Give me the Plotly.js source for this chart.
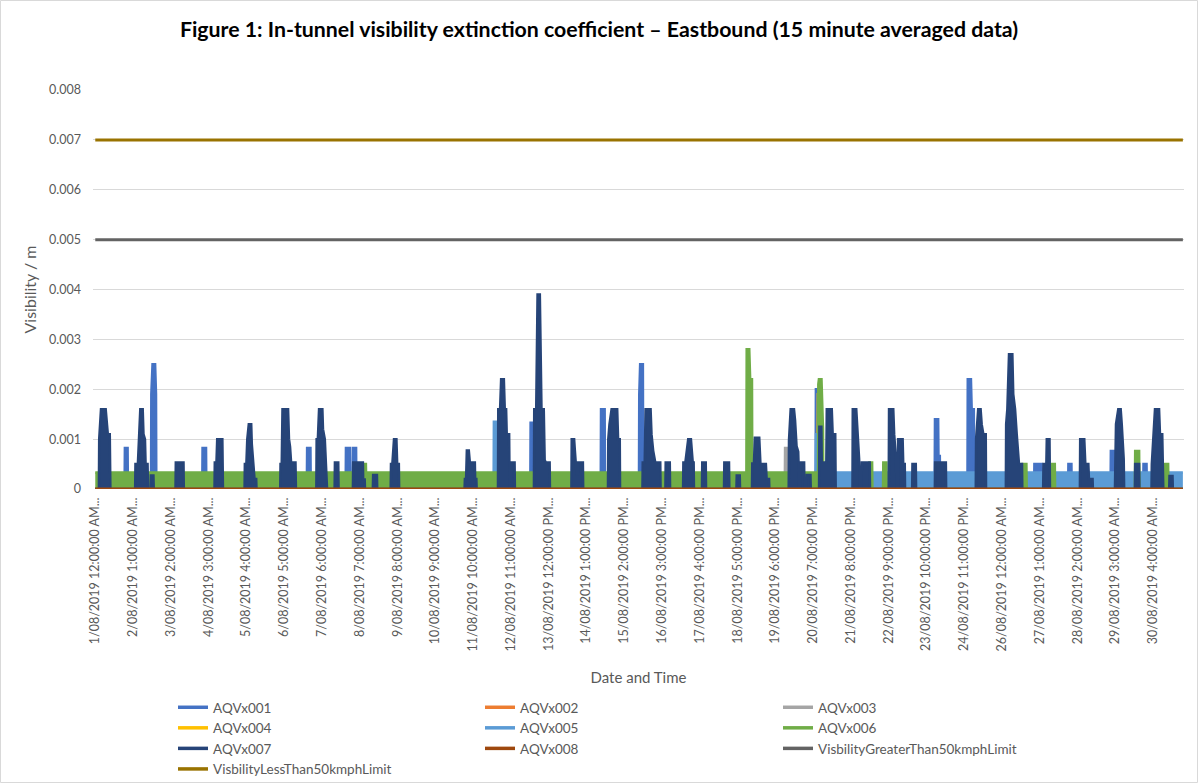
<!DOCTYPE html>
<html><head><meta charset="utf-8">
<script src="https://cdn.plot.ly/plotly-3.0.1.min.js"></script>
<style>html,body{margin:0;padding:0;background:#fff;}#chart{width:1198px;height:783px;}</style>
</head><body><div id="chart"></div>
<script>
// Time axis: hours since 1/08/2019 12:00:00 AM (15 minute data); values: extinction coefficient (1/m)
const tickHours = [0,25,50,75,100,125,150,175,200,225,250,275,300,325,350,375,400,425,450,475,500,525,550,575,600,625,650,675,700];
const tickLabels = [
 "1/08/2019 12:00:00 AM...","2/08/2019 1:00:00 AM...","3/08/2019 2:00:00 AM...","4/08/2019 3:00:00 AM...",
 "5/08/2019 4:00:00 AM...","6/08/2019 5:00:00 AM...","7/08/2019 6:00:00 AM...","8/08/2019 7:00:00 AM...",
 "9/08/2019 8:00:00 AM...","10/08/2019 9:00:00 AM...","11/08/2019 10:00:00 AM...","12/08/2019 11:00:00 AM...",
 "13/08/2019 12:00:00 PM...","14/08/2019 1:00:00 PM...","15/08/2019 2:00:00 PM...","16/08/2019 3:00:00 PM...",
 "17/08/2019 4:00:00 PM...","18/08/2019 5:00:00 PM...","19/08/2019 6:00:00 PM...","20/08/2019 7:00:00 PM...",
 "21/08/2019 8:00:00 PM...","22/08/2019 9:00:00 PM...","23/08/2019 10:00:00 PM...","24/08/2019 11:00:00 PM...",
 "26/08/2019 12:00:00 AM...","27/08/2019 1:00:00 AM...","28/08/2019 2:00:00 AM...","29/08/2019 3:00:00 AM...",
 "30/08/2019 4:00:00 AM..."];

const AQVx001 = [[0,0],
 [19.4,0],[19.6,0.00082],[21.4,0.00082],[21.6,0],
 [36.9,0],[37.1,0.0019],[37.9,0.0025],[39.6,0.0025],[40.2,0.0019],[40.4,0],
 [70.8,0],[71,0.00082],[73.3,0.00082],[73.5,0],
 [140,0],[140.2,0.00082],[142.4,0.00082],[142.6,0],
 [165.7,0],[165.9,0.00082],[168.7,0.00082],[168.9,0],
 [170.5,0],[170.7,0.00082],[172.6,0.00082],[172.8,0],
 [287.9,0],[288.1,0.00133],[290,0.00133],[290.2,0],
 [334.5,0],[334.7,0.0016],[337.1,0.0016],[337.3,0],
 [359.8,0],[360,0.0019],[360.6,0.0025],[362.4,0.0025],[362.6,0],
 [476.7,0],[476.9,0.002],[478.5,0.002],[478.7,0],
 [555.5,0],[555.7,0.0014],[557.8,0.0014],[558,0.00066],[558.9,0.00066],[559.1,0],
 [577.2,0],[577.4,0.0022],[579.5,0.0022],[580,0.0016],[581.4,0.0016],[581.6,0],
 [621.3,0],[621.5,0.0005],[626.2,0.0005],[626.4,0],
 [643.8,0],[644,0.0005],[646,0.0005],[646.2,0],
 [671.9,0],[672.1,0.00076],[674.1,0.00076],[674.3,0],
 [693.5,0],[693.7,0.0005],[695.7,0.0005],[695.9,0],
 [719.75,0]];
const AQVx002 = [[0,0],[478.3,0],[478.5,0.002],[479.1,0.002],[479.3,0],[719.75,0]];
const AQVx003 = [[0,0],[456.3,0],[456.5,0.00082],[458.5,0.00082],[458.7,0],[719.75,0]];
const AQVx004 = [[0,0],[478,0],[478.2,0.0019],[479.1,0.0019],[479.3,0],[719.75,0]];
const AQVx005 = [[0,0],[263.6,0],[263.8,0.00135],[265.8,0.00135],[266,0],
 [476.8,0],[477,0.0011],[478.2,0.0011],[478.4,0],[481.8,0],[482,0.00033],[719.75,0.00033]];
const AQVx006 = [[0,0.00033],[177,0.00033],[177.1,0.0005],[179.1,0.0005],[179.2,0.00033],
 [430.9,0.00033],[431.1,0.0028],[432.8,0.0028],[433.4,0.0022],[434.6,0.0022],[434.8,0.00033],
 [478.3,0.00033],[478.5,0.0021],[478.9,0.0022],[480.6,0.0022],[481.2,0.0012],[481.6,0.0012],[481.8,0],
 [512.1,0],[512.3,0.00053],[514.1,0.00053],[514.3,0],
 [521.3,0],[521.5,0.00053],[523.6,0.00053],[523.8,0],
 [613.4,0],[613.6,0.0005],[616.2,0.0005],[616.4,0],
 [632.9,0],[633.1,0.0005],[635,0.0005],[635.2,0],
 [688,0],[688.2,0.00076],[690.8,0.00076],[691,0],
 [707.2,0],[707.4,0.0005],[710,0.0005],[710.2,0],
 [719.75,0]];
const AQVx007 = [[0,0],
 [2.4,0],[2.6,0.001],[3.8,0.0016],[6.9,0.0016],[7.3,0.0014],[8.3,0.0011],[9.6,0.0011],[10,0],
 [26.4,0],[26.6,0.0005],[28.2,0.0005],[28.8,0.001],[29.8,0.0016],[31.4,0.0016],[31.9,0.0011],[32.9,0.001],[33.3,0.0005],[34.6,0.0005],[34.9,0],
 [36.6,0],[36.8,0.00027],[38.5,0.00027],[38.7,0],
 [53.1,0],[53.3,0.00053],[58.4,0.00053],[58.6,0],
 [78.9,0],[79.1,0.00053],[80.2,0.00053],[80.7,0.001],[84.1,0.001],[84.5,0],
 [98.8,0],[99,0.0005],[100,0.0005],[100.6,0.001],[101.6,0.0013],[103.2,0.0013],[103.6,0.0009],[104.6,0.00057],[105.4,0.0002],[106.5,0.0002],[106.7,0],
 [122.4,0],[122.6,0.0005],[123.4,0.0005],[123.9,0.0016],[127.6,0.0016],[128.2,0.001],[128.9,0.00085],[129.6,0.00053],[132.5,0.00053],[132.8,0],
 [146.3,0],[146.5,0.001],[147.3,0.001],[148.1,0.0016],[150.3,0.0016],[150.7,0.0012],[151.9,0.001],[152.9,0.0003],[153.4,0],
 [158.4,0],[158.6,0.00053],[160.8,0.00053],[161,0],
 [170.5,0],[170.7,0.00053],[177.1,0.00053],[177.3,0.00019],[178.3,0.00019],[178.5,0],
 [183.7,0],[183.9,0.00028],[186.4,0.00028],[186.6,0],
 [195.5,0],[195.7,0.0005],[196.6,0.0005],[197.1,0.0008],[197.7,0.001],[199.3,0.001],[199.8,0.0005],[200.9,0.0005],[201.1,0],
 [244.4,0],[244.6,0.0002],[245.4,0.0002],[245.9,0.00077],[247.2,0.00077],[247.9,0.00053],[251.2,0.00053],[251.4,0.0002],[252.2,0.0002],[252.4,0],
 [266.5,0],[266.7,0.0016],[267.9,0.0016],[268.6,0.0022],[270.4,0.0022],[271,0.0016],[271.9,0.0016],[272.3,0.0011],[273.9,0.0011],[274.2,0],
 [275.4,0],[275.6,0.00053],[277.5,0.00053],[277.7,0],
 [290.3,0],[290.5,0.0016],[291.8,0.0016],[292.7,0.0039],[294.2,0.0039],[294.8,0.00275],[295.3,0.0016],[296.8,0.0016],[297.4,0.00058],[298.2,0.00053],[300.7,0.00053],[300.9,0],
 [315.1,0],[315.3,0.001],[316.9,0.001],[317.4,0.00077],[318.5,0.0003],[319.3,0.0003],[319.5,0.00053],[322.7,0.00053],[322.9,0],
 [339.3,0],[339.5,0.001],[340.3,0.0013],[341.7,0.0016],[345.4,0.0016],[346,0.001],[347.1,0.001],[347.3,0],
 [362.1,0],[362.3,0.00053],[363.6,0.00053],[364.2,0.0016],[367.5,0.0016],[368.1,0.0011],[369.2,0.00077],[370.6,0.00053],[373.9,0.00053],[374.1,0],
 [377.3,0],[377.5,0.00053],[380.2,0.00053],[380.4,0],
 [389,0],[389.2,0.00053],[390.5,0.00053],[391.3,0.00077],[392.4,0.001],[394.2,0.001],[394.6,0.00077],[395.4,0.00053],[396,0.00053],[396.2,0],
 [401.5,0],[401.7,0.00053],[404,0.00053],[404.2,0],
 [416.1,0],[416.3,0.00053],[419.4,0.00053],[419.6,0],
 [424.3,0],[424.5,0.00027],[426.5,0.00027],[426.7,0],
 [434.6,0],[434.8,0.00051],[435.9,0.00051],[436.5,0.00103],[439.4,0.00103],[440.2,0.0005],[443.8,0.0005],[444.3,0.0002],[445.9,0.0002],[446.1,0],
 [458.9,0],[459.1,0.00098],[460.2,0.0016],[462.4,0.0016],[463.1,0.00138],[464.1,0.00086],[465.2,0.00075],[465.9,0],
 [466.7,0],[466.9,0.00053],[469.1,0.00053],[469.3,0],
 [470.7,0],[470.9,0.00028],[473.3,0.00028],[473.5,0],
 [479,0],[479.2,0.00125],[480.5,0.00125],[480.8,0.00053],[483.8,0.00053],[484.1,0.0016],[487.4,0.0016],[488,0.0011],[489.7,0.0011],[490,0],
 [501.1,0],[501.3,0.0016],[503.6,0.0016],[504.5,0.0011],[505.5,0.0006],[506,0],
 [507.1,0],[507.3,0.00053],[512.5,0.00053],[512.7,0],
 [525.1,0],[525.3,0.0016],[528.1,0.0016],[528.7,0.0011],[529.9,0.0006],[530.3,0],
 [531.1,0],[531.3,0.001],[534.3,0.001],[534.7,0.0005],[535.7,0.0005],[535.9,0],
 [540.6,0],[540.8,0.0005],[543,0.0005],[543.2,0],
 [555.6,0],[555.8,0.00053],[562.9,0.00053],[563.1,0],
 [582.7,0],[582.9,0.001],[584.3,0.0016],[585.9,0.0016],[586.6,0.0013],[587.7,0.0011],[589.3,0.0011],[589.5,0],
 [602.6,0],[602.8,0.0013],[603.6,0.0016],[604.7,0.0027],[606.9,0.0027],[607.5,0.0019],[608.7,0.0016],[609.8,0.0011],[610.8,0.0006],[611.3,0.0005],[613.3,0.0005],[613.5,0],
 [627.3,0],[627.5,0.0005],[629.4,0.0005],[629.7,0.001],[631.5,0.001],[631.8,0],
 [651.6,0],[651.8,0.001],[654.5,0.001],[655.2,0.0005],[657.2,0.0005],[657.6,0.0002],[660,0.0002],[660.2,0],
 [674.8,0],[675,0.0005],[675.5,0.0013],[677,0.0016],[678.6,0.0016],[679.3,0.0013],[680.6,0.0006],[680.9,0],
 [688,0],[688.2,0.0005],[690.8,0.0005],[691,0],
 [699,0],[699.2,0.0005],[700.2,0.001],[701.3,0.0016],[704,0.0016],[704.6,0.0011],[706.1,0.0011],[706.8,0],
 [710.7,0],[710.9,0.00026],[712.9,0.00026],[713.1,0],
 [719.75,0]];
const AQVx008 = [[0,0],[719.75,0]];
const greaterThan50Limit = [[0,0.005],[719.75,0.005]];
const lessThan50Limit = [[0,0.007],[719.75,0.007]];

const seriesNames = ["AQVx001","AQVx002","AQVx003","AQVx004","AQVx005","AQVx006","AQVx007","AQVx008",
  "VisbilityGreaterThan50kmphLimit","VisbilityLessThan50kmphLimit"];
const seriesData = [AQVx001,AQVx002,AQVx003,AQVx004,AQVx005,AQVx006,AQVx007,AQVx008,greaterThan50Limit,lessThan50Limit];
const seriesColors = ["#4472C4","#ED7D31","#A5A5A5","#FFC000","#5B9BD5","#70AD47","#264478","#9E480E","#636363","#997300"];
const filled = [true,true,true,true,true,true,true,false,false,false];
// legend column of each entry (Excel lays legend out in 3 columns, row by row)
const legendColumn = ["legend","legend2","legend3","legend","legend2","legend3","legend","legend2","legend3","legend"];

const FONT = "Lato, 'Open Sans', sans-serif";
const traces = [];
seriesData.forEach((d,i)=>{
  traces.push({
    x: d.map(p=>p[0]), y: d.map(p=>p[1]), type:'scatter', mode:'lines',
    line:{color:seriesColors[i], width: i>=7?3:2.5},
    fill: filled[i]?'tozeroy':'none', fillcolor: seriesColors[i],
    showlegend:false, hoverinfo:'skip'
  });
});
// legend entries (line samples)
seriesNames.forEach((n,i)=>{
  traces.push({x:[null], y:[null], type:'scatter', mode:'lines', name:n, legend:legendColumn[i],
    line:{color:seriesColors[i], width:3.5}, showlegend:true});
});

const M = {l:93, r:14, t:90, b:294};
const W = 1198, H = 783;
const pw = W - M.l - M.r, ph = H - M.t - M.b;
function legendAt(left){
  return {orientation:'v', xref:'paper', yref:'paper', x:(left-M.l)/pw, xanchor:'left',
    y:-(692-(H-M.b))/ph, yanchor:'top', font:{size:13.5, color:'#595959'}, bgcolor:'rgba(0,0,0,0)',
    tracegroupgap:0, borderwidth:0};
}

const layout = {
  width: W, height: H, margin: Object.assign({autoexpand:false}, M),
  paper_bgcolor:'#fff', plot_bgcolor:'#fff',
  font:{family:FONT, color:'#595959', size:12},
  title:{text:'Figure 1: In-tunnel visibility extinction coefficient \u2013 Eastbound (15 minute averaged data)',
    font:{family:FONT, size:21.3, color:'#000', weight:'bold'}, x:0.5, xref:'container', xanchor:'center',
    y:1-30/H, yref:'container', yanchor:'middle'},
  xaxis:{range:[-1.5,720.5], tickmode:'array', tickvals:tickHours, ticktext:tickLabels, tickangle:-90,
    showgrid:false, zeroline:false, showline:false, ticks:'', tickfont:{size:12.5, color:'#595959'},
    ticklabelstandoff:5, automargin:false,
    title:{text:'Date and Time', font:{size:15, color:'#595959'}, standoff:22}},
  yaxis:{range:[0,0.008], dtick:0.001, tick0:0, showgrid:true, gridcolor:'#D9D9D9', gridwidth:1,
    zeroline:false, showline:false, ticks:'', tickfont:{size:12.5, color:'#595959'}, ticklabelstandoff:11,
    automargin:false,
    title:{text:'Visibility / m', font:{size:16, color:'#595959'}, standoff:8}},
  legend: legendAt(173),
  legend2: legendAt(480),
  legend3: legendAt(778),
  shapes:[{type:'rect', xref:'paper', yref:'paper', x0:-(M.l-0.5)/pw, x1:1+(M.r-0.5)/pw,
    y0:-(M.b-0.5)/ph, y1:1+(M.t-0.5)/ph, line:{color:'#D9D9D9', width:1}, layer:'below'}],
  showlegend:true
};
Plotly.newPlot('chart', traces, layout, {displayModeBar:false, staticPlot:true});
</script></body></html>
